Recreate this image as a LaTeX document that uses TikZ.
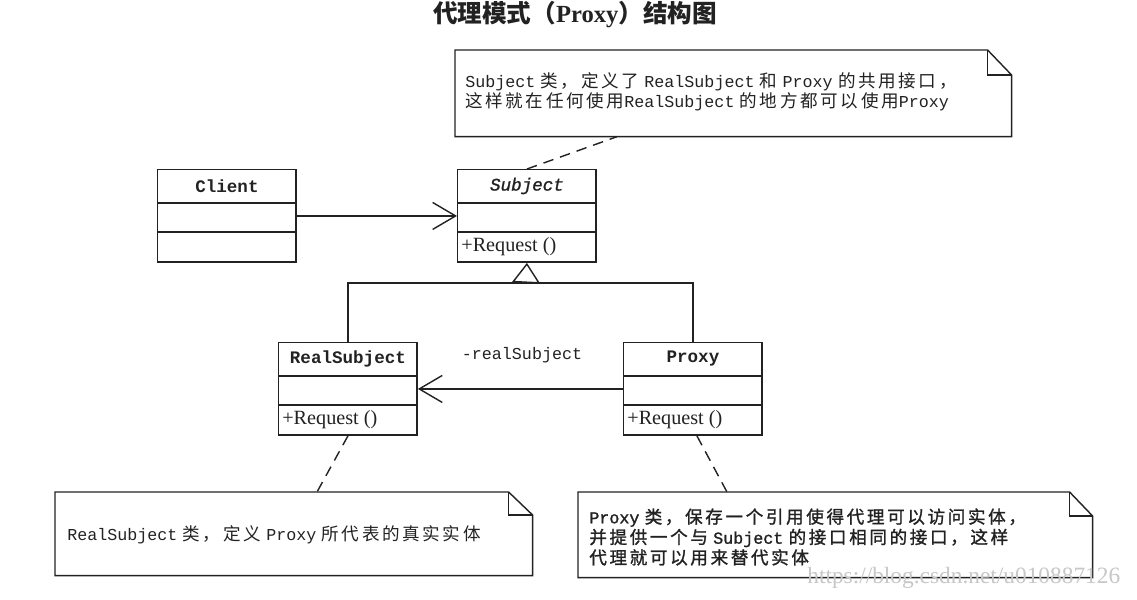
\documentclass[tikz,border=0pt]{standalone}
\usepackage{fontspec}
\setmainfont{Liberation Serif}
\setmonofont{Liberation Mono}
\newfontfamily\cjk{Noto Sans CJK SC}
\newfontfamily\cjks{Noto Sans CJK SC}[LetterSpace=15]
\newfontfamily\cjkb{Noto Sans CJK SC}[LetterSpace=15,FakeBold=1.3]
\newfontfamily\monob{Liberation Mono}[FakeBold=1.3]
\usetikzlibrary{arrows.meta,calc}
\newcommand\EN[1]{{\ttfamily\fontsize{9.5}{11.6}\selectfont #1}}
\newcommand\ENB[1]{{\monob\fontsize{9.5}{11.6}\selectfont #1}}
\newcommand\gapsp{\hspace{3pt}}
\newcommand\dogear[3]{%
  \draw[line] (#1.north west) -- ($(#1.north east)+(-#2,0)$) -- ($(#1.north east)+(0,#3)$) -- (#1.south east) -- (#1.south west) -- cycle;
  \draw[line] ($(#1.north east)+(-#2,0)$) |- ($(#1.north east)+(0,#3)$);}
\definecolor{ink}{HTML}{222222}
\tikzset{
  line/.style={draw=ink, line width=0.8pt},
  cls/.style={line, minimum width=2.77cm, minimum height=1.85cm, anchor=north west, inner sep=0pt},
  clsname/.style={text=ink, font=\ttfamily\bfseries\fontsize{10}{12}\selectfont},
  clsop/.style={text=ink, anchor=west, inner sep=0pt, font=\fontsize{11.5}{13}\selectfont},
  notebox/.style={anchor=north west, inner sep=0pt},
  notetext/.style={text=ink, anchor=west, align=left, inner sep=0pt, font=\cjks\fontsize{10}{11.6}\selectfont},
  dashline/.style={line, dash pattern=on 6pt off 4pt},
  assoc/.style={line, -{Straight Barb[length=0.46cm,width=0.54cm]}},
  inherit/.style={line, -{Triangle[open,length=0.4cm,width=0.56cm]}},
}
\begin{document}
\begin{tikzpicture}[x=0.02cm, y=-0.02cm]
\useasboundingbox[fill=white] (0,0) rectangle (1137,599);

% title
\node[text=ink, font=\cjk\bfseries\fontsize{14}{16}\selectfont] (title) at (575,15)
  {代理模式（{\rmfamily\bfseries Proxy}）结构图};

% classes
\node[cls] (client) at (157,169) {};
\node[cls] (subject) at (457,169) {};
\node[cls] (rs) at (278,342) {};
\node[cls] (proxy) at (623,342) {};
\foreach \c in {client,subject,rs,proxy}{
  \draw[line] ($(\c.north west)+(0,34)$) -- ($(\c.north east)+(0,34)$);
  \draw[line] ($(\c.north west)+(0,63)$) -- ($(\c.north east)+(0,63)$);
}
\node[clsname] (clientname) at ($(client.north)+(0,17)$) {Client};
\node[text=ink, font=\monob\itshape\fontsize{10}{12}\selectfont] (subjectname) at ($(subject.north)+(0,17)$) {Subject};
\node[clsname] (rsname) at ($(rs.north)+(0,17)$) {RealSubject};
\node[clsname] (proxyname) at ($(proxy.north)+(0,17)$) {Proxy};
\node[clsop] (subjectop) at ($(subject.north west)+(4,78)$) {+Request ()};
\node[clsop] (rsop) at ($(rs.north west)+(4,78)$) {+Request ()};
\node[clsop] (proxyop) at ($(proxy.north west)+(4,78)$) {+Request ()};

% connectors
\draw[assoc] (client.east) -- (subject.west);
\draw[assoc] (proxy.west) -- (rs.east);
\node[text=ink, font=\ttfamily\fontsize{9.5}{11}\selectfont] (rolelabel) at (522,355) {-realSubject};
\coordinate (j) at (526,283);
\draw[line] (rs.north) |- (j) -| (proxy.north);
\draw[inherit] (j) -- (subject.south);

% notes
\node[notebox, minimum width=11.12cm, minimum height=1.72cm] (nn) at (455,50) {};
\dogear{nn}{24}{25}
\node[notetext] (nntext) at (465,92)
  {\EN{Subject}\gapsp 类，定义了\gapsp\EN{RealSubject}\gapsp 和\gapsp\EN{Proxy}\gapsp 的共用接口，\\
   这样就在任何使用\EN{RealSubject}\gapsp 的地方都可以使用\EN{Proxy}};

\node[notebox, minimum width=9.54cm, minimum height=1.66cm] (nl) at (55,492) {};
\dogear{nl}{24}{23}
\node[notetext] (nltext) at (67,535)
  {\EN{RealSubject}\gapsp 类，定义\gapsp\EN{Proxy}\gapsp 所代表的真实实体};

\node[notebox, minimum width=10.28cm, minimum height=1.70cm] (nr) at (578,492) {};
\dogear{nr}{23}{24}
\node[notetext, font=\cjkb\fontsize{10}{11.6}\selectfont] (nrtext) at (589,537)
  {\ENB{Proxy}\gapsp 类，保存一个引用使得代理可以访问实体，\\
   并提供一个与\gapsp\ENB{Subject}\gapsp 的接口相同的接口，这样\\
   代理就可以用来替代实体};

\draw[dashline] (subject.north) -- ($(nn.south west)+(162,0)$);
\draw[dashline] (rs.south) -- ($(nl.north west)+(262,0)$);
\draw[dashline] ($(proxy.south)+(4,0)$) -- ($(nr.north west)+(149,0)$);

% watermark
\node[text=black!22, font=\rmfamily\fontsize{13.3}{15}\selectfont, anchor=west, inner sep=0pt] (wm) at (807,578) {https://blog.csdn.net/u010887126};
\end{tikzpicture}
\end{document}
